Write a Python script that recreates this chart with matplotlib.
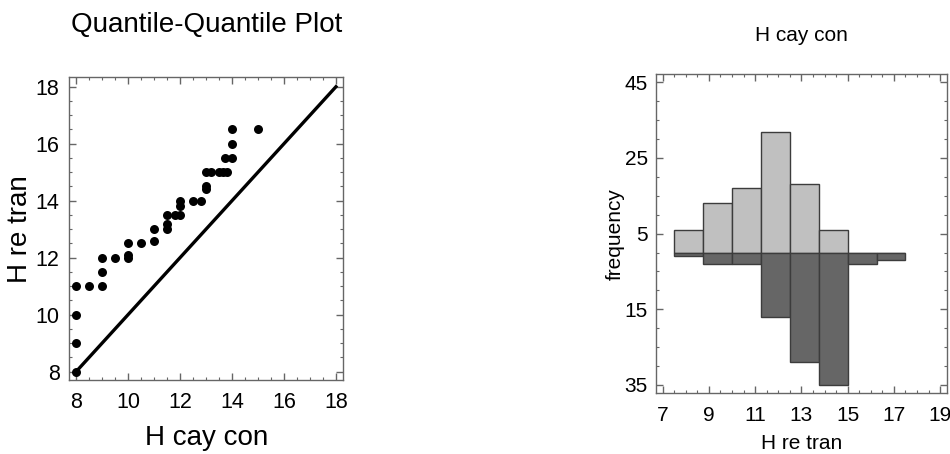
import numpy as np
import matplotlib
matplotlib.use("Agg")
import matplotlib.pyplot as plt
from matplotlib.ticker import MultipleLocator, FixedLocator, FuncFormatter

plt.rcParams['font.family'] = ['Liberation Sans', 'DejaVu Sans']

# Quantile pairs: H cay con (x) vs H re tran (y)
qq_x = [8, 8, 8, 8, 8.5, 9, 9, 9, 9.5, 10, 10, 10, 10.5, 11, 11, 11.5, 11.5, 11.5,
        11.8, 12, 12, 12, 12.5, 12.8, 13, 13, 13, 13.2, 13.5, 13.65, 13.8, 13.75,
        14, 14, 14, 15]
qq_y = [8, 9, 10, 11, 11, 11, 11.5, 12, 12, 12, 12.1, 12.5, 12.5, 12.6, 13, 13, 13.2, 13.5,
        13.5, 13.5, 13.8, 14, 14, 14, 14.4, 14.5, 15, 15, 15, 15, 15, 15.5,
        15.5, 16, 16.5, 16.5]
ref_line = [8, 18]

# Paired histogram
bin_edges = [7.5, 8.75, 10, 11.25, 12.5, 13.75, 15, 16.25, 17.5]
counts_cay_con = [6, 13, 17, 32, 18, 6, 0, 0]
counts_re_tran = [1, 3, 3, 17, 29, 35, 3, 2]
hist_yticks = [45, 25, 5, -15, -35]

fig = plt.figure(figsize=(9.5, 4.54), dpi=100)

frame_col = '#666666'
tick_kw = dict(direction='in', top=True, right=True, colors=frame_col,
               labelcolor='black')


def style_axes(ax, labelsize, pad):
    for s in ax.spines.values():
        s.set_color(frame_col)
        s.set_linewidth(1.0)
    ax.tick_params(which='major', length=5, width=1.0, labelsize=labelsize,
                   pad=pad, **tick_kw)
    ax.tick_params(which='minor', length=2.5, width=0.8, **tick_kw)


# Left panel: Q-Q plot
ax1 = fig.add_axes([0.0729, 0.163, 0.2884, 0.6667])
ax1.plot(ref_line, ref_line, color='black', lw=2.4, zorder=2)
ax1.scatter(qq_x, qq_y, s=42, color='black', zorder=3, linewidths=0)
ax1.set_xlim(7.74, 18.28)
ax1.set_ylim(7.71, 18.33)
ax1.xaxis.set_major_locator(MultipleLocator(2))
ax1.yaxis.set_major_locator(MultipleLocator(2))
ax1.xaxis.set_minor_locator(MultipleLocator(0.5))
ax1.yaxis.set_minor_locator(MultipleLocator(0.5))
style_axes(ax1, 15.5, 7)
ax1.tick_params(axis='x', pad=9)
ax1.set_xlabel('H cay con', fontsize=20, labelpad=8)
ax1.set_ylabel('H re tran', fontsize=20)
ax1.yaxis.set_label_coords(-0.132, 0.5)
fig.text(0.217, 0.945, 'Quantile-Quantile Plot', fontsize=20,
         ha='center', va='center')

# Right panel: back-to-back histogram
ax2 = fig.add_axes([0.6905, 0.1337, 0.3062, 0.7033])
widths = np.diff(bin_edges)
ax2.bar(bin_edges[:-1], counts_cay_con, width=widths, align='edge',
        color='#c0c0c0', edgecolor='#3c3c3c', linewidth=1.0, zorder=2)
ax2.bar(bin_edges[:-1], [-c for c in counts_re_tran], width=widths, align='edge',
        color='#666666', edgecolor='#3c3c3c', linewidth=1.0, zorder=2)
ax2.set_xlim(6.71, 19.29)
ax2.set_ylim(-37.2, 47.2)
ax2.xaxis.set_major_locator(MultipleLocator(2, offset=1))
ax2.xaxis.set_minor_locator(MultipleLocator(0.5))
ax2.yaxis.set_major_locator(FixedLocator(hist_yticks))
ax2.yaxis.set_minor_locator(MultipleLocator(5))
ax2.yaxis.set_major_formatter(FuncFormatter(lambda v, p: f'{abs(v):g}'))
style_axes(ax2, 15, 6)
ax2.tick_params(axis='x', pad=9)
ax2.set_xlabel('H re tran', fontsize=15)
ax2.xaxis.set_label_coords(0.5, -0.128)
ax2.set_ylabel('frequency', fontsize=15)
ax2.yaxis.set_label_coords(-0.107, 0.5)
ax2.set_title('H cay con', fontsize=15, pad=24)

fig.savefig('out.png', dpi=100)
